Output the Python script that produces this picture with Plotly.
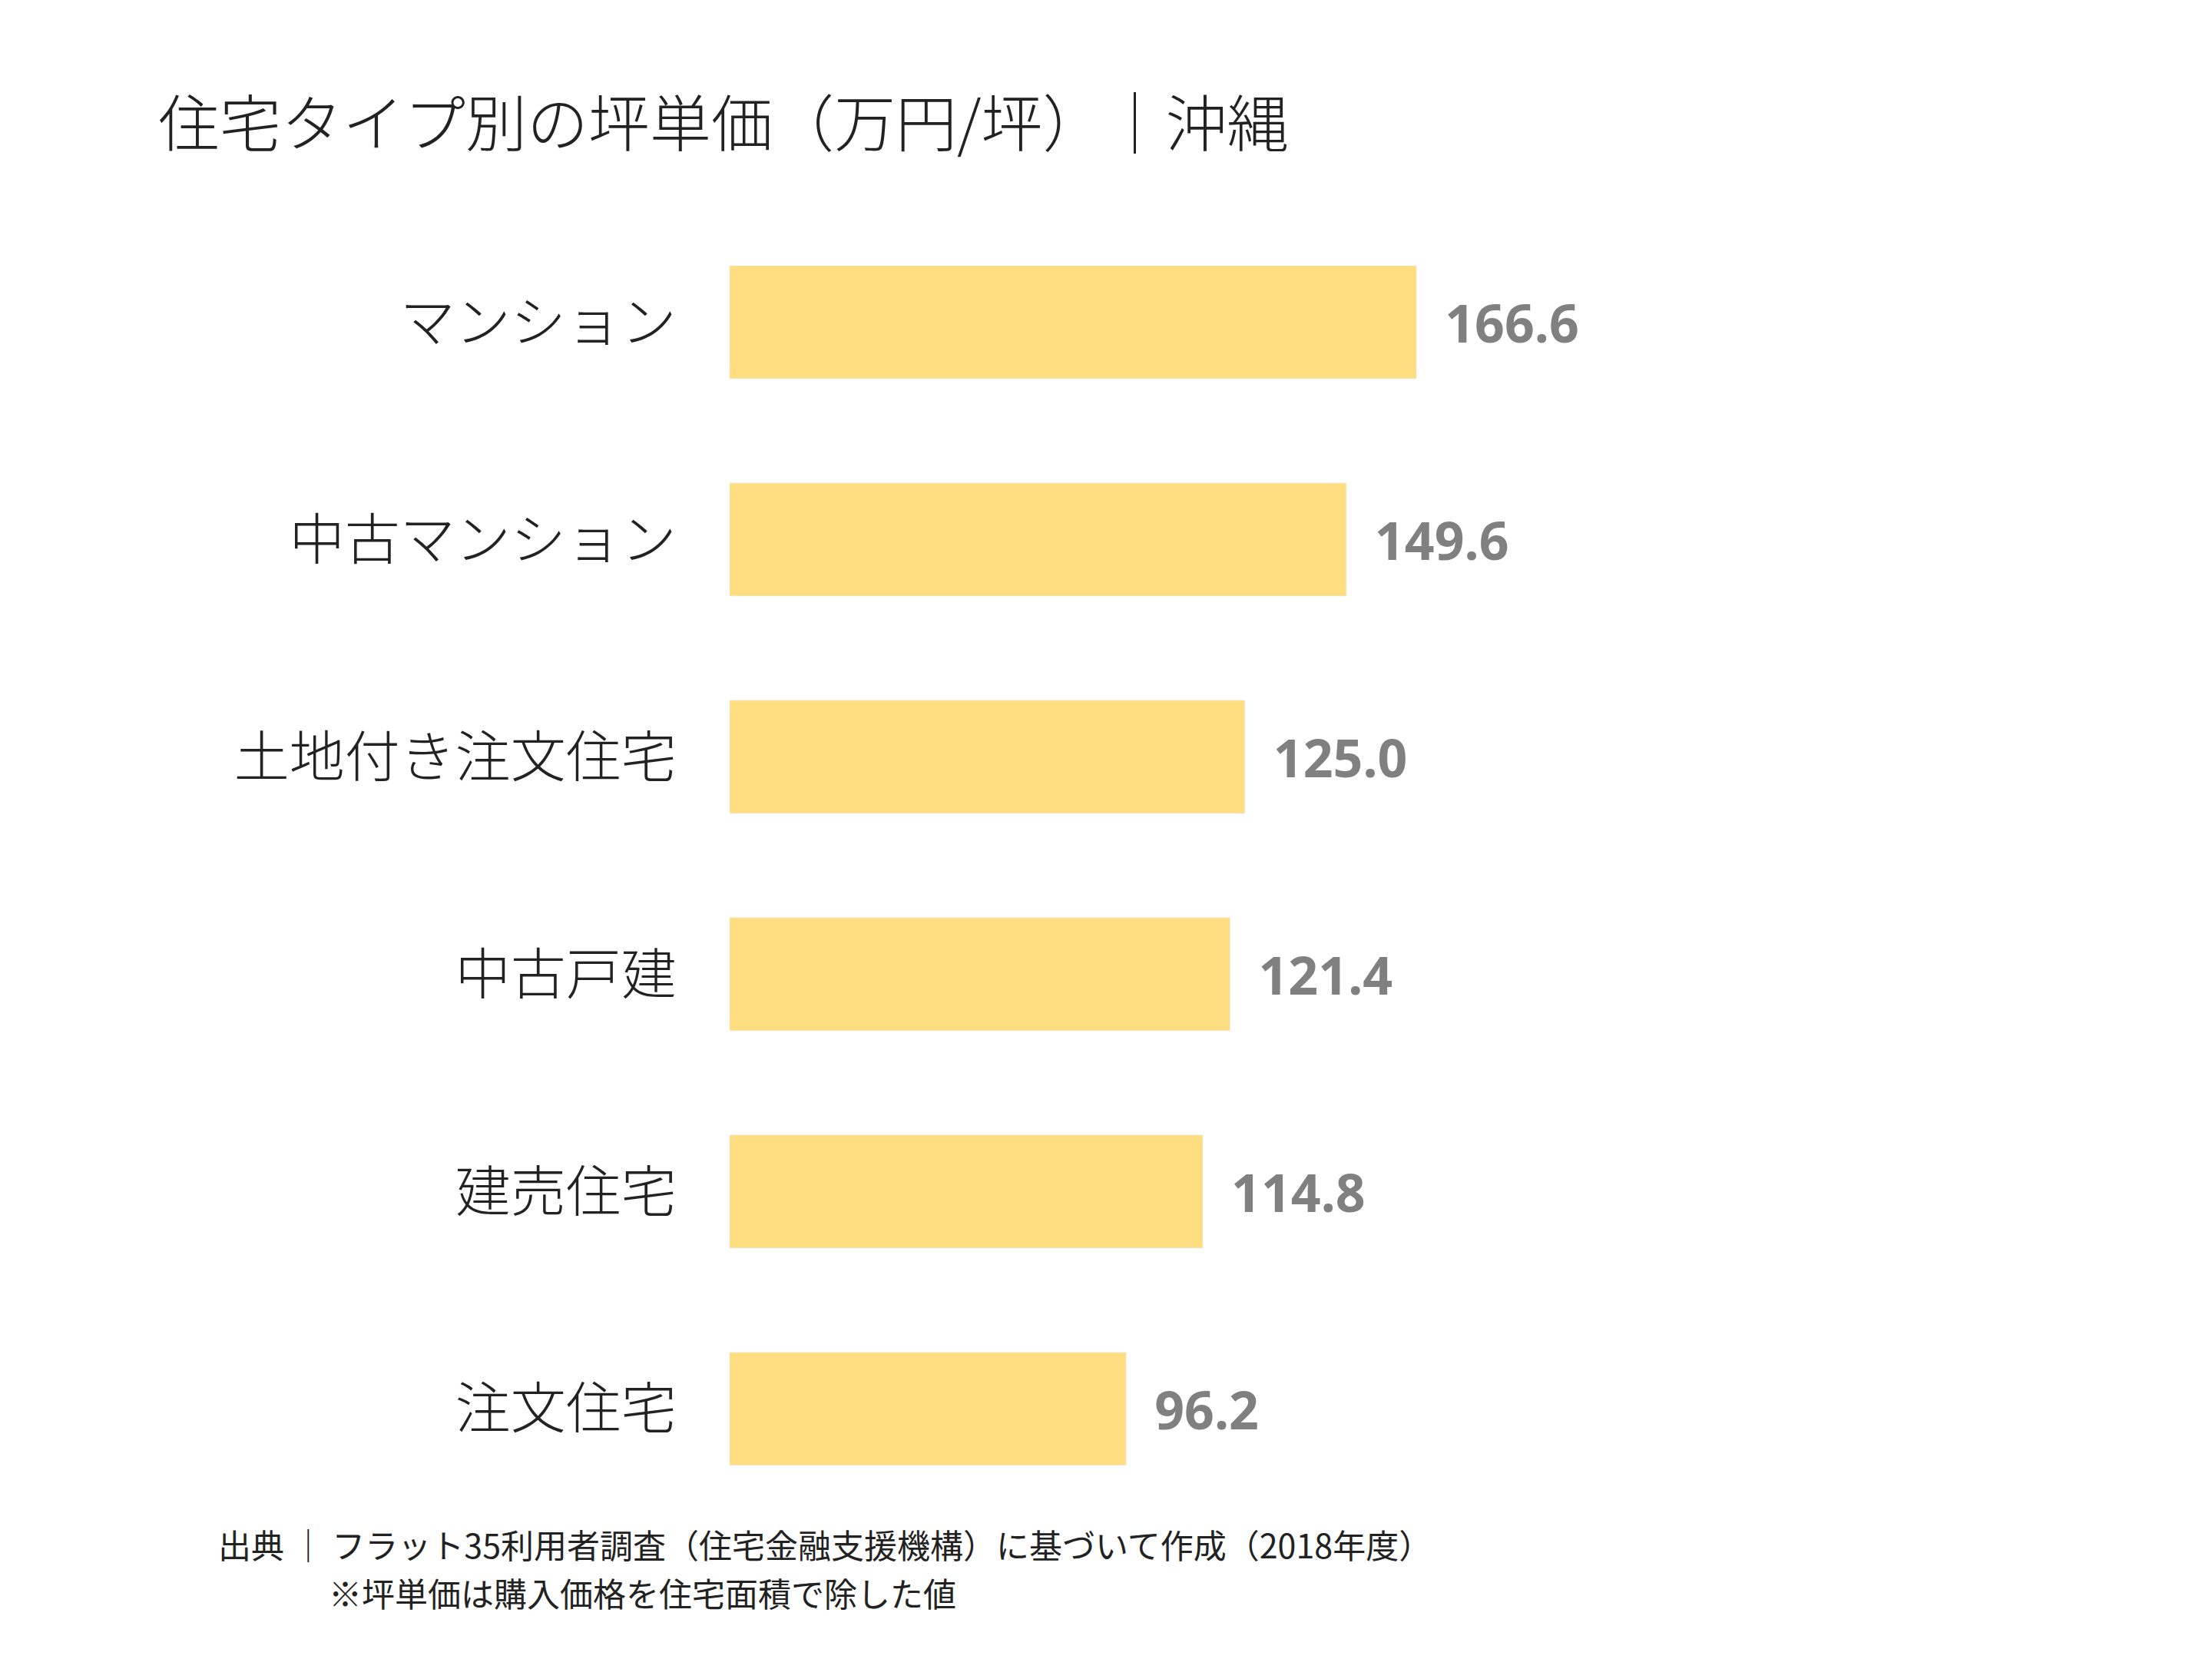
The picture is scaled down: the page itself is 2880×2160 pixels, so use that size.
import plotly.graph_objects as go

categories = ["マンション", "中古マンション", "土地付き注文住宅", "中古戸建", "建売住宅", "注文住宅"]
values = [166.6, 149.6, 125.0, 121.4, 114.8, 96.2]
value_labels = ["166.6", "149.6", "125.0", "121.4", "114.8", "96.2"]

fig = go.Figure(go.Bar(
    x=values, y=categories, orientation="h",
    marker=dict(color="#FFDE82"), width=0.52,
    text=["\u2002" + v for v in value_labels], textposition="outside", cliponaxis=False,
    textfont=dict(family="Noto Sans, Open Sans", size=68, color="#808080", weight="bold"),
))
fig.update_layout(
    width=2880, height=2160, margin=dict(l=0, r=0, t=0, b=0),
    paper_bgcolor="white", plot_bgcolor="white", showlegend=False,
    font=dict(family="Noto Sans CJK JP"),
    xaxis=dict(domain=[0.327, 0.793], range=[0, 250], visible=False),
    yaxis=dict(domain=[0.089, 0.875], autorange="reversed", showgrid=False, showline=False,
               ticks="", ticklabelstandoff=68,
               tickfont=dict(family="Noto Sans CJK JP", size=72, color="#222222", weight=300)),
    annotations=[
        dict(text="住宅タイプ別の坪単価（万円/坪）｜沖縄", x=0.068, y=0.932, xref="paper", yref="paper",
             xanchor="left", yanchor="middle", showarrow=False,
             font=dict(family="Noto Sans CJK JP", size=80, color="#222222", weight=300)),
        dict(text="出典 ｜ フラット35利用者調査（住宅金融支援機構）に基づいて作成（2018年度）", x=0.095, y=0.073,
             xref="paper", yref="paper", xanchor="left", yanchor="middle", showarrow=False,
             font=dict(family="Noto Sans CJK JP", size=43, color="#222222")),
        dict(text="※坪単価は購入価格を住宅面積で除した値", x=0.145, y=0.044,
             xref="paper", yref="paper", xanchor="left", yanchor="middle", showarrow=False,
             font=dict(family="Noto Sans CJK JP", size=43, color="#222222")),
    ],
)
fig.write_html("out.html")
